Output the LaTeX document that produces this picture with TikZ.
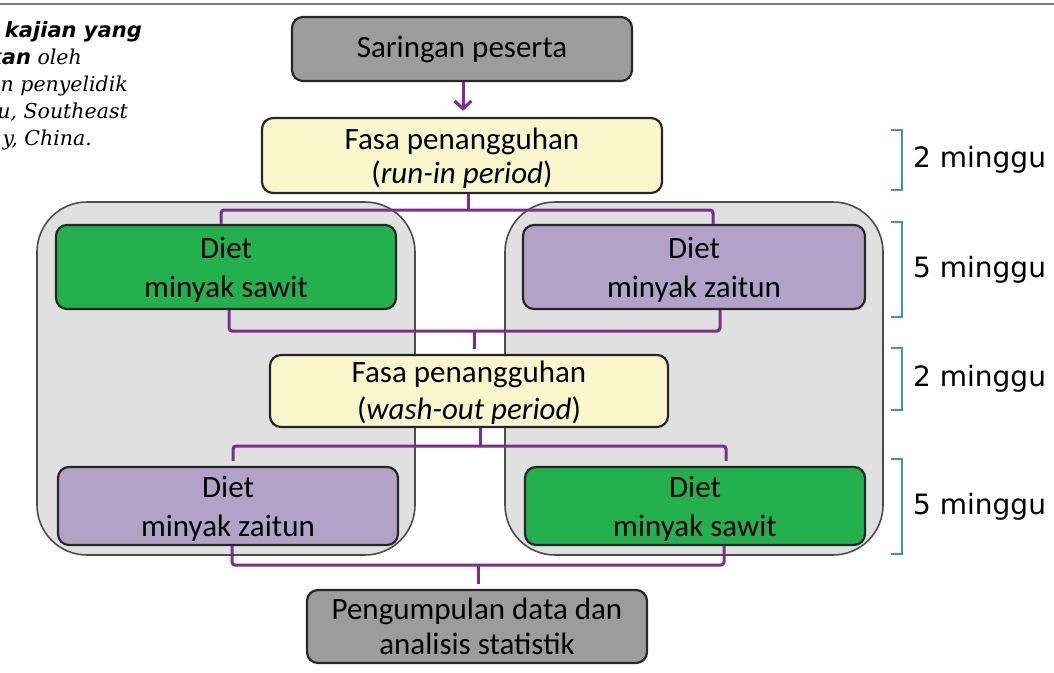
\documentclass[tikz,border=0pt]{standalone}
\usepackage{fontspec}
\setmainfont{Carlito}
\newfontfamily\dvsans{DejaVu Sans}
\newfontfamily\dvserif{DejaVu Serif}
\usetikzlibrary{arrows.meta,calc}
\definecolor{boxgray}{HTML}{9C9C9C}
\definecolor{yel}{HTML}{FBF7CD}
\definecolor{grn}{HTML}{22B14C}
\definecolor{pur}{HTML}{B3A2C8}
\definecolor{panelfill}{HTML}{E0E0E0}
\definecolor{panelline}{HTML}{4D4D4D}
\definecolor{boxline}{HTML}{262626}
\definecolor{conncol}{HTML}{7D2D8C}
\definecolor{brk}{HTML}{3D8FDB}
\definecolor{rulegray}{HTML}{7A7A7A}
\begin{document}
\begin{tikzpicture}[x=1pt,y=-1pt,
  box/.style={draw=boxline, line width=2.2pt, rounded corners=11pt, align=center,
    inner sep=0pt, font=\fontsize{31}{37}\selectfont},
  dietbox/.style={box, font=\fontsize{31}{39}\selectfont},
  panel/.style={draw=panelline, fill=panelfill, line width=1.6pt, rounded corners=50pt, inner sep=0pt},
  conn/.style={draw=conncol, line width=3pt, rounded corners=3pt},
  bracket/.style={draw=brk, line width=2.6pt},
  weeks/.style={anchor=west, inner sep=0pt, font=\dvsans\fontsize{28}{32}\selectfont},
  captext/.style={anchor=base east, inner sep=0pt},
  capserif/.style={captext, font=\dvserif\itshape\fontsize{20.5}{24}\selectfont}
]
\useasboundingbox (0,0) rectangle (1054,672);
\clip (0,0) rectangle (1054,672);
\fill[white] (0,0) rectangle (1054,672);

% top rule
\draw[rulegray, line width=2pt] (0,4) -- (1054,4);

% caption fragment
\node[captext, font=\dvsans\bfseries\itshape\fontsize{21}{25}\selectfont] (c1) at (142,37) {kajian yang};
\node[captext] (c2) at (82,64) {{\dvsans\bfseries\itshape\fontsize{21}{25}\selectfont kan}{\dvserif\itshape\fontsize{20.5}{24}\selectfont\ oleh}};
\node[capserif] (c3) at (128,91) {n penyelidik};
\node[capserif] (c4) at (128,118) {u, Southeast};
\node[capserif] (c5) at (92,145) {y, China.};

% panels
\node[panel, minimum width=378pt, minimum height=353pt] (pL) at (226,378.5) {};
\node[panel, minimum width=378pt, minimum height=353pt] (pR) at (694,378.5) {};

% boxes
\node[box, fill=boxgray, minimum width=340pt, minimum height=64pt] (sar) at (462,49) {Saringan peserta};
\node[box, fill=yel, minimum width=400pt, minimum height=75pt, font=\fontsize{31}{34}\selectfont, text depth=-3pt] (run) at (462,155.5) {Fasa penangguhan\\(\textit{run-in period})};
\node[dietbox, fill=grn, minimum width=340pt, minimum height=84pt, text depth=-8pt] (d1) at (226,267) {Diet\\minyak sawit};
\node[dietbox, fill=pur, minimum width=342pt, minimum height=84pt, text depth=-8pt] (d2) at (694,267) {Diet\\minyak zaitun};
\node[box, fill=yel, minimum width=398pt, minimum height=72pt, text depth=2pt] (wash) at (469,391) {Fasa penangguhan\\(\textit{wash-out period})};
\node[dietbox, fill=pur, minimum width=340pt, minimum height=78pt, text depth=-1pt] (d3) at (228,506) {Diet\\minyak zaitun};
\node[dietbox, fill=grn, minimum width=340pt, minimum height=78pt, text depth=-1pt] (d4) at (695,506) {Diet\\minyak sawit};
\node[box, fill=boxgray, minimum width=340pt, minimum height=73pt, font=\fontsize{31}{35}\selectfont] (pen) at (477,626.5) {Pengumpulan data dan\\analisis statistik};

% connectors
\draw[conn, -{Straight Barb[length=8pt,width=17pt]}] ([xshift=1pt]sar.south) -- ([xshift=1pt,yshift=6pt]run.north);

\coordinate (jA) at (468,210);
\draw[conn] ([xshift=6pt]run.south) -- (jA);
\draw[conn] ([xshift=-5pt]d1.north) |- (jA) -| ([xshift=19pt]d2.north);

\coordinate (jB) at (474,331);
\draw[conn] ([xshift=3pt]d1.south) |- (jB) -| ([xshift=26pt]d2.south);
\draw[conn] (jB) -- ([xshift=5pt,yshift=5pt]wash.north);

\coordinate (jC) at (480,446);
\draw[conn] ([xshift=11pt]wash.south) -- (jC);
\draw[conn] ([xshift=5pt,yshift=5pt]d3.north) |- (jC) -| ([xshift=31pt,yshift=5pt]d4.north);

\coordinate (jD) at (478,565);
\draw[conn] ([xshift=4pt]d3.south) |- (jD) -| ([xshift=29pt]d4.south);
\draw[conn] (jD) -- ([xshift=1pt,yshift=5pt]pen.north);

% duration brackets
\draw[bracket] (891,130) -- (902,130) -- (902,190) -- (891,190);
\draw[bracket] (891,222) -- (902,222) -- (902,317) -- (891,317);
\draw[bracket] (891,348) -- (902,348) -- (902,410) -- (891,410);
\draw[bracket] (891,459) -- (902,459) -- (902,554) -- (891,554);
\node[weeks] (w1) at (913,160) {2 minggu};
\node[weeks] (w2) at (913,269.5) {5 minggu};
\node[weeks] (w3) at (913,379) {2 minggu};
\node[weeks] (w4) at (913,506.5) {5 minggu};
\end{tikzpicture}
\end{document}
